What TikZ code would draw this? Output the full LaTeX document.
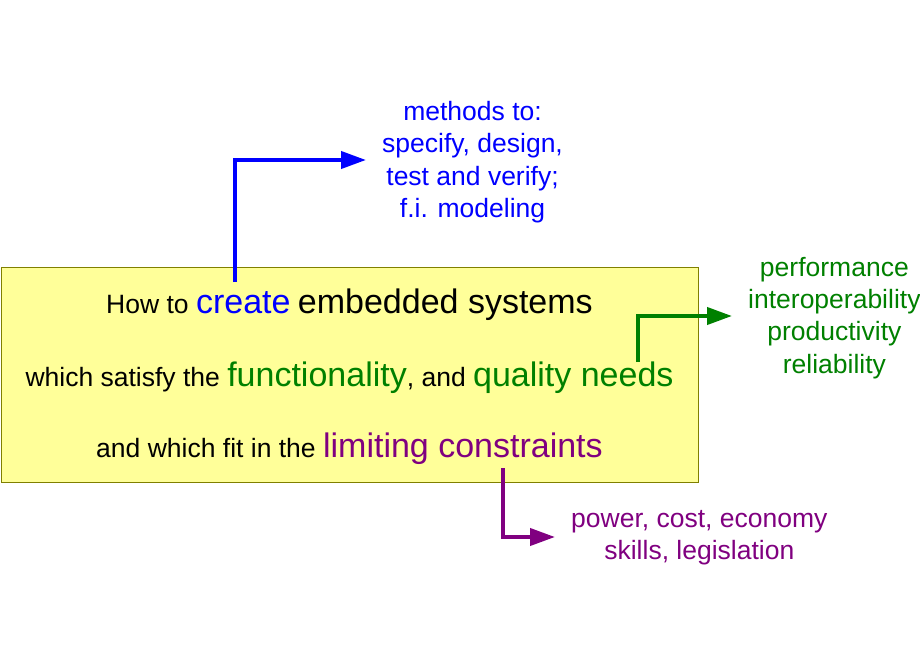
\documentclass[tikz,border=0pt]{standalone}
\usepackage{fontspec}
\setmainfont{Liberation Sans}
\usetikzlibrary{arrows.meta}

\definecolor{boxfill}{RGB}{255,255,153}
\definecolor{boxline}{RGB}{128,128,0}
\definecolor{needgreen}{RGB}{0,128,0}
\definecolor{limitpurple}{RGB}{128,0,128}

% groot (gekleurd) woord in de tekst
\newcommand{\keyword}[2]{{\color{#1}\fontsize{34}{40}\selectfont #2}}

\begin{document}
\begin{tikzpicture}[x=1pt, y=-1pt,
    >={Triangle[length=25pt, width=17pt]},
    link/.style={->, line width=4pt, shorten >=16pt},
    note/.style={align=center, anchor=west, inner sep=0pt,
      font=\fontsize{26.5}{32.3}\selectfont},
    line/.style={anchor=base, inner sep=0pt,
      font=\fontsize{26.5}{32}\selectfont}]

      \useasboundingbox (0,0) rectangle (920,660);

      % ============================================================
      % MIDDEN: vraagstelling
      % ============================================================

      \draw[boxline, fill=boxfill, line width=1pt] (1,267) rectangle (698,482);

      \node[line] (line1) at (349.5,313)
        {How to \keyword{blue}{create} \keyword{black}{embedded systems}};
      \node[line] (line2) at (349.5,386)
        {which satisfy the \keyword{needgreen}{functionality}, and
         \keyword{needgreen}{quality needs}};
      \node[line] (line3) at (349.5,457)
        {and which fit in the \keyword{limitpurple}{limiting constraints}};

      % ============================================================
      % RONDOM: uitwerkingen
      % ============================================================

      % Methoden
      \node[note, text=blue] (methods) at (382,162)
        {methods to:\\specify, design,\\test and verify;\\f.i. modeling};
      \coordinate (create) at (235,282);
      \draw[link, blue] (create) |- ([yshift=2pt]methods.west);

      % Kwaliteit
      \node[note, text=needgreen] (quality) at (748,318)
        {performance\\interoperability\\productivity\\reliability};
      \coordinate (needs) at (638,362);
      \draw[link, needgreen] (needs) |- ([yshift=2pt]quality.west);

      % Beperkingen
      \node[note, text=limitpurple] (limits) at (571,538)
        {power, cost, economy\\skills, legislation};
      \coordinate (constraints) at (503,468);
      \draw[link, limitpurple] (constraints) |- ([yshift=1pt]limits.west);

\end{tikzpicture}
\end{document}
